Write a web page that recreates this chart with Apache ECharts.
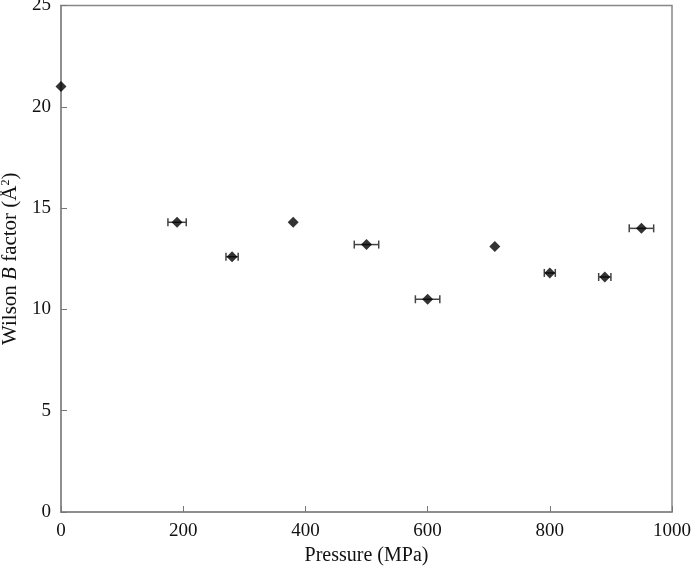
<!DOCTYPE html>
<html>
<head>
<meta charset="utf-8">
<script src="https://cdn.jsdelivr.net/npm/echarts@6/dist/echarts.min.js"></script>
<style>
  html, body { margin: 0; padding: 0; background: #fff; }
  #chart { width: 692px; height: 570px; }
</style>
</head>
<body>
<div id="chart"></div>
<script>
// pressure (MPa), Wilson B factor, and horizontal error (MPa)
var pressure = [0, 190, 280, 380, 500, 600, 710, 800, 890, 950];
var bFactor = [21.0, 14.3, 12.6, 14.3, 13.2, 10.5, 13.1, 11.8, 11.6, 14.0];
var pressureErr = [0, 15, 10, 0, 20, 20, 0, 9, 10, 20];
var xTicks = [0, 200, 400, 600, 800, 1000];
var yTicks = [0, 5, 10, 15, 20, 25];

var points = pressure.map(function (p, i) { return [p, bFactor[i]]; });
var errData = pressure.map(function (p, i) {
    return [p - pressureErr[i], p + pressureErr[i], bFactor[i]];
}).filter(function (d, i) { return pressureErr[i] > 0; });

var axisColor = '#888';
var font = '"Liberation Serif", "Times New Roman", serif';

var myChart = echarts.init(document.getElementById('chart'));
myChart.setOption({
    animation: false,
    textStyle: { fontFamily: font },
    grid: {
        left: 61, right: 20, top: 5.5, bottom: 58,
        containLabel: false,
        outerBoundsMode: 'none',
        show: true, borderColor: axisColor, borderWidth: 1.5
    },
    xAxis: {
        type: 'value',
        min: xTicks[0], max: xTicks[xTicks.length - 1], interval: 200,
        name: 'Pressure (MPa)',
        nameLocation: 'middle',
        nameGap: 33,
        nameTextStyle: { fontSize: 20, color: '#111', fontFamily: font },
        axisLine: { lineStyle: { color: axisColor, width: 1.5 } },
        axisTick: { show: true, inside: true, length: 6, lineStyle: { color: '#777', width: 1 } },
        axisLabel: {
            fontSize: 19, color: '#111', margin: 10, fontFamily: font,
            formatter: function (v) { return String(v); }
        },
        splitLine: { show: false }
    },
    yAxis: {
        type: 'value',
        min: yTicks[0], max: yTicks[yTicks.length - 1], interval: 5,
        name: '{a|Wilson }{i|B}{a| factor (Å}{s|2}{a|)}',
        nameLocation: 'middle',
        nameGap: 36,
        nameTextStyle: {
            color: '#111',
            rich: {
                a: { fontSize: 21, fontFamily: font, color: '#111' },
                i: { fontSize: 21, fontFamily: font, fontStyle: 'italic', color: '#111' },
                s: { fontSize: 12, fontFamily: font, color: '#111', padding: [0, 0, 10, 0] }
            }
        },
        axisLine: { lineStyle: { color: axisColor, width: 1.5 } },
        axisTick: { show: true, inside: true, length: 6, lineStyle: { color: '#777', width: 1 } },
        axisLabel: { fontSize: 19, color: '#111', margin: 10, fontFamily: font },
        splitLine: { show: false }
    },
    series: [
        {
            type: 'custom',
            data: errData,
            clip: false,
            z: 1,
            renderItem: function (params, api) {
                var lo = api.coord([api.value(0), api.value(2)]);
                var hi = api.coord([api.value(1), api.value(2)]);
                var cap = 4;
                var style = { stroke: '#444', lineWidth: 1.5 };
                return {
                    type: 'group',
                    children: [
                        { type: 'line', shape: { x1: lo[0], y1: lo[1], x2: hi[0], y2: hi[1] }, style: style },
                        { type: 'line', shape: { x1: lo[0], y1: lo[1] - cap, x2: lo[0], y2: lo[1] + cap }, style: style },
                        { type: 'line', shape: { x1: hi[0], y1: hi[1] - cap, x2: hi[0], y2: hi[1] + cap }, style: style }
                    ]
                };
            }
        },
        {
            type: 'scatter',
            data: points,
            symbol: 'diamond',
            symbolSize: 11,
            clip: false,
            z: 2,
            itemStyle: { color: '#000' }
        }
    ]
});
</script>
</body>
</html>
